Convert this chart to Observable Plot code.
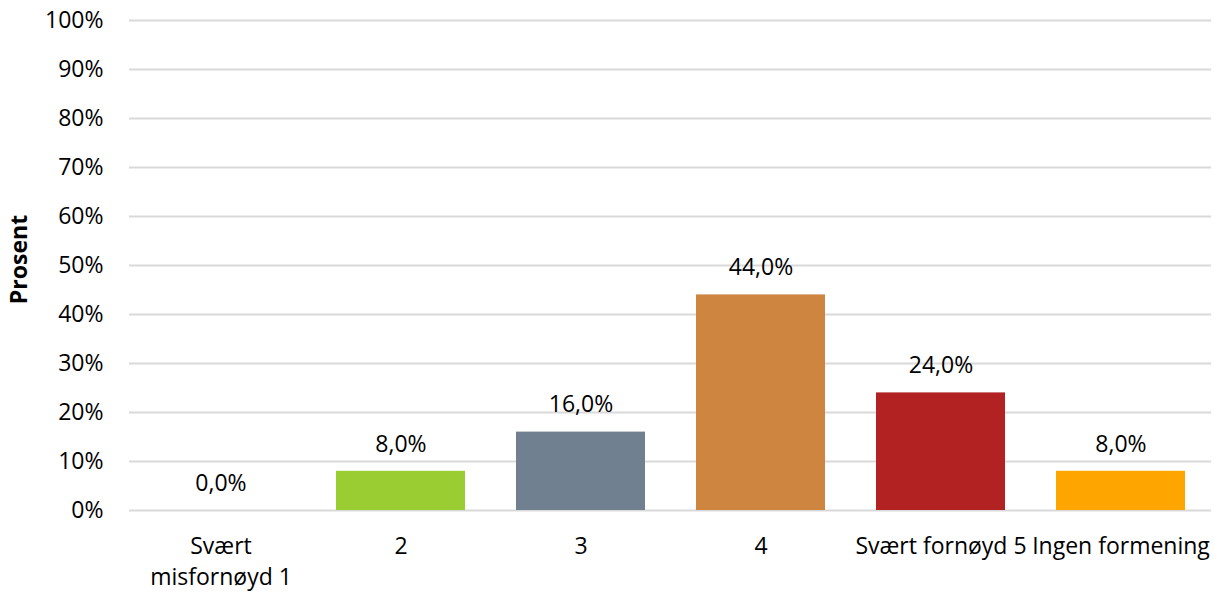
<!DOCTYPE html>
<html>
<head>
<meta charset="utf-8">
<script src="https://cdn.jsdelivr.net/npm/d3@7"></script>
<script src="https://cdn.jsdelivr.net/npm/@observablehq/plot@0.6"></script>
<style>
  html, body { margin: 0; padding: 0; background: #fff; }
  #chart svg { display: block; }
</style>
</head>
<body>
<div id="chart"></div>
<script>
const categories = ["Svært\nmisfornøyd 1", "2", "3", "4", "Svært fornøyd 5", "Ingen formening"];
const values = [0.0, 8.0, 16.0, 44.0, 24.0, 8.0];
const colors = ["#4472c4", "#9acd32", "#708090", "#cd853f", "#b22222", "#ffa500"];
const yTicks = [0, 10, 20, 30, 40, 50, 60, 70, 80, 90, 100];

const data = categories.map((c, i) => ({category: c, value: values[i], color: colors[i]}));
const font = "'Open Sans', sans-serif";

const chart = Plot.plot({
  width: 1214,
  height: 592,
  marginTop: 20,
  marginBottom: 82,
  marginLeft: 129,
  marginRight: 3,
  style: {fontFamily: font, fontSize: "23px", color: "#000", background: "#fff"},
  x: {domain: categories, paddingInner: 0.285, paddingOuter: 0.1425, label: null},
  y: {domain: [0, 100], label: null},
  marks: [
    Plot.gridY(yTicks, {stroke: "#d9d9d9", strokeOpacity: 1, strokeWidth: 2}),
    Plot.axisY(yTicks, {tickSize: 0, tickPadding: 26, tickFormat: d => d + "%", fontSize: 23, label: null}),
    Plot.axisX({tickSize: 0, tickPadding: 21, fontSize: 23, lineHeight: 1.36, label: null, lineAnchor: "top"}),
    Plot.barY(data, {x: "category", y: "value", fill: "color"}),
    Plot.text(data, {x: "category", y: "value", text: d => d.value.toFixed(1).replace(".", ",") + "%", dy: -27, fontSize: 23, fill: "#000"}),
    Plot.text(["Prosent"], {frameAnchor: "left", textAnchor: "middle", dx: -110, dy: -6, rotate: -90, fontWeight: "bold", fontSize: 23, fill: "#000"})
  ]
});
document.getElementById("chart").appendChild(chart);
</script>
</body>
</html>
